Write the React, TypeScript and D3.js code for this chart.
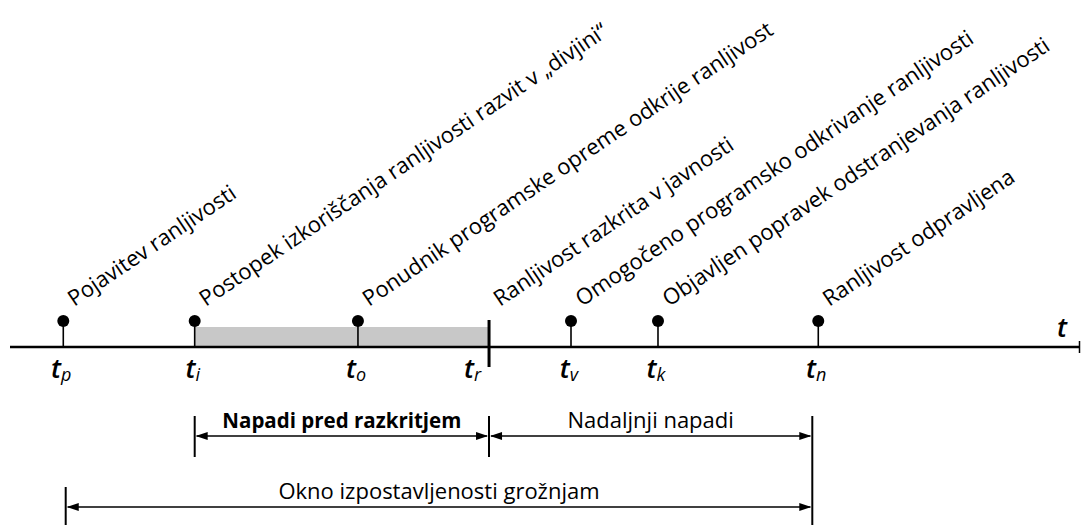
import React, { useEffect, useRef } from 'react';
import * as d3 from 'd3';

// events on the timeline (t_p ... t_n), time in % of the axis
const eventKeys = ['p', 'i', 'o', 'r', 'v', 'k', 'n'];
const eventTimes = [4.98, 17.26, 32.52, 44.77, 52.43, 60.56, 75.54];
const eventDescriptions = [
  'Pojavitev ranljivosti',
  'Postopek izkoriščanja ranljivosti razvit v „divjini“',
  'Ponudnik programske opreme odkrije ranljivost',
  'Ranljivost razkrita v javnosti',
  'Omogočeno programsko odkrivanje ranljivosti',
  'Objavljen popravek odstranjevanja ranljivosti',
  'Ranljivost odpravljena',
];
const disclosureKey = 'r';
const shadedSpan = ['i', 'r'];

// dimension brackets below the axis
const spanLabels = ['Napadi pred razkritjem', 'Nadaljnji napadi', 'Okno izpostavljenosti grožnjam'];
const spanFrom = [17.26, 44.77, 5.21];
const spanTo = [44.77, 74.98, 74.98];
const spanRow = [0, 0, 1];
const spanBold = [true, false, false];

const W = 1081;
const H = 525;

export default function App() {
  const ref = useRef<SVGSVGElement>(null);

  useEffect(() => {
    const svg = d3.select(ref.current);
    svg.selectAll('*').remove();

    const x = d3.scaleLinear().domain([0, 100]).range([10, 1080]);
    const axisY = 347;
    const dotY = 321;
    const rowY = [436, 507];
    const ink = '#000';

    const events = eventKeys.map((k, i) => ({
      key: k,
      x: x(eventTimes[i]),
      text: eventDescriptions[i],
      bar: k === disclosureKey,
    }));
    const byKey = (k: string) => events.find(e => e.key === k)!;

    // shaded period
    svg.append('rect')
      .attr('x', byKey(shadedSpan[0]).x)
      .attr('y', 327)
      .attr('width', byKey(shadedSpan[1]).x - byKey(shadedSpan[0]).x)
      .attr('height', axisY - 327)
      .attr('fill', '#c8c8c8');

    // time axis
    svg.append('line')
      .attr('x1', x(0)).attr('x2', x(100))
      .attr('y1', axisY).attr('y2', axisY)
      .attr('stroke', ink).attr('stroke-width', 2.6);
    svg.append('line')
      .attr('x1', x(100) - 0.5).attr('x2', x(100) - 0.5)
      .attr('y1', axisY - 6).attr('y2', axisY + 6)
      .attr('stroke', ink).attr('stroke-width', 1.5);
    svg.append('text')
      .attr('x', 1057).attr('y', 337)
      .attr('font-size', 27).attr('font-style', 'italic').attr('font-weight', 600)
      .text('t');

    const g = svg.append('g');

    // stems + dots
    const dots = events.filter(e => !e.bar);
    g.selectAll('line.stem').data(dots).join('line')
      .attr('class', 'stem')
      .attr('x1', d => d.x).attr('x2', d => d.x)
      .attr('y1', dotY).attr('y2', axisY)
      .attr('stroke', ink).attr('stroke-width', 1.6);
    g.selectAll('circle').data(dots).join('circle')
      .attr('cx', d => d.x).attr('cy', dotY).attr('r', 6)
      .attr('fill', ink);

    // disclosure bar
    g.selectAll('line.bar').data(events.filter(e => e.bar)).join('line')
      .attr('class', 'bar')
      .attr('x1', d => d.x).attr('x2', d => d.x)
      .attr('y1', 320).attr('y2', 367)
      .attr('stroke', ink).attr('stroke-width', 3);

    // t labels
    const tl = g.selectAll('text.tlabel').data(events).join('text')
      .attr('class', 'tlabel')
      .attr('x', d => d.bar ? d.x - 8 : d.x - 2)
      .attr('y', 378)
      .attr('text-anchor', d => d.bar ? 'end' : 'middle')
      .attr('font-style', 'italic')
      .attr('font-weight', 600)
      .attr('font-size', 27);
    tl.append('tspan').text('t');
    tl.append('tspan').attr('font-size', 18).attr('font-weight', 400).attr('dy', 3).text(d => d.key);

    // rotated descriptions
    g.selectAll('text.desc').data(events).join('text')
      .attr('class', 'desc')
      .attr('transform', d => `translate(${d.x + 11},307) rotate(-34)`)
      .attr('font-size', 22)
      .text(d => d.text);

    // brackets
    const spans = spanLabels.map((s, i) => ({
      label: s,
      x1: x(spanFrom[i]),
      x2: x(spanTo[i]),
      y: rowY[spanRow[i]],
      bold: spanBold[i],
    }));

    // vertical limits, merged per x
    const ext = new Map<number, [number, number]>();
    spans.forEach(s => {
      [s.x1, s.x2].forEach(px => {
        const k = Math.round(px * 10) / 10;
        const cur = ext.get(k);
        const top = s.y - 20, bot = s.y + 21;
        ext.set(k, cur ? [Math.min(cur[0], top), Math.max(cur[1], bot)] : [top, bot]);
      });
    });
    g.selectAll('line.lim').data(Array.from(ext.entries())).join('line')
      .attr('class', 'lim')
      .attr('x1', d => d[0]).attr('x2', d => d[0])
      .attr('y1', d => d[1][0]).attr('y2', d => d[1][1])
      .attr('stroke', ink).attr('stroke-width', 2);

    g.selectAll('line.dim').data(spans).join('line')
      .attr('class', 'dim')
      .attr('x1', d => d.x1 + 2).attr('x2', d => d.x2 - 2)
      .attr('y1', d => d.y).attr('y2', d => d.y)
      .attr('stroke', ink).attr('stroke-width', 1.4);

    const head = (tx: number, y: number, dir: number) =>
      `M${tx},${y}L${tx + dir * 12},${y - 4}L${tx + dir * 12},${y + 4}Z`;
    g.selectAll('path.arrow').data(spans).join('path')
      .attr('class', 'arrow')
      .attr('d', d => head(d.x1 + 1, d.y, 1) + head(d.x2 - 1, d.y, -1))
      .attr('fill', ink);

    g.selectAll('text.span').data(spans).join('text')
      .attr('class', 'span')
      .attr('x', d => (d.x1 + d.x2) / 2)
      .attr('y', d => d.y - 8)
      .attr('text-anchor', 'middle')
      .attr('font-size', d => d.bold ? 20.5 : 22)
      .attr('font-weight', d => d.bold ? 700 : 400)
      .text(d => d.label);
  }, []);

  return (
    <svg
      ref={ref}
      width={W}
      height={H}
      style={{ position: 'absolute', left: 0, top: 0, background: '#fff' }}
      fontFamily="'Open Sans', sans-serif"
    />
  );
}
